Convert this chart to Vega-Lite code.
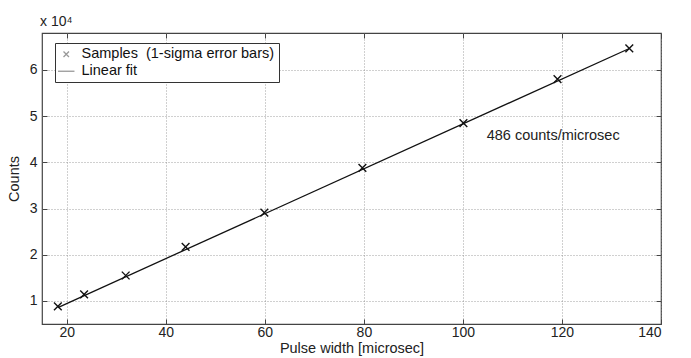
{
  "$schema": "https://vega.github.io/schema/vega-lite/v6.json",
  "width": 619,
  "height": 291,
  "autosize": {"type": "none"},
  "padding": {"left": 42, "top": 33, "right": 30, "bottom": 34},
  "background": "white",
  "title": {"text": "x 10⁴", "anchor": "start", "frame": "group", "fontSize": 14, "fontWeight": "normal", "font": "Liberation Sans", "color": "#222", "offset": 4, "dx": -2},
  "config": {
    "view": {"stroke": "#444", "strokeWidth": 1.2},
    "font": "Liberation Sans",
    "axis": {
      "labelFont": "Liberation Sans", "labelFontSize": 14, "labelColor": "#222",
      "titleFont": "Liberation Sans", "titleFontSize": 14.5, "titleFontWeight": "normal", "titleColor": "#222",
      "grid": true, "gridColor": "#888", "gridDash": [1, 2], "gridWidth": 0.8,
      "domain": false, "tickColor": "#444", "tickSize": -5, "labelPadding": 10
    }
  },
  "resolve": {"axis": {"x": "independent", "y": "independent"}},
  "datasets": {
    "samples": [
      {"width": 18.2, "counts": 8800, "series": "Samples\u00a0\u00a0(1-sigma error bars)"},
      {"width": 23.5, "counts": 11400, "series": "Samples\u00a0\u00a0(1-sigma error bars)"},
      {"width": 31.9, "counts": 15500, "series": "Samples\u00a0\u00a0(1-sigma error bars)"},
      {"width": 44.0, "counts": 21700, "series": "Samples\u00a0\u00a0(1-sigma error bars)"},
      {"width": 59.9, "counts": 29100, "series": "Samples\u00a0\u00a0(1-sigma error bars)"},
      {"width": 79.7, "counts": 38800, "series": "Samples\u00a0\u00a0(1-sigma error bars)"},
      {"width": 100.1, "counts": 48500, "series": "Samples\u00a0\u00a0(1-sigma error bars)"},
      {"width": 119.1, "counts": 58000, "series": "Samples\u00a0\u00a0(1-sigma error bars)"},
      {"width": 133.6, "counts": 64650, "series": "Samples\u00a0\u00a0(1-sigma error bars)"}
    ],
    "fit": [
      {"width": 18.2, "counts": 8565},
      {"width": 133.6, "counts": 64650}
    ]
  },
  "layer": [
    {
      "data": {"name": "fit"},
      "mark": {"type": "line", "color": "#111", "strokeWidth": 1.3},
      "encoding": {
        "x": {"field": "width", "type": "quantitative", "scale": {"domain": [15, 140], "nice": false, "zero": false},
          "axis": {"values": [20, 40, 60, 80, 100, 120, 140], "title": "Pulse width [microsec]", "titlePadding": 2, "labelPadding": 6}},
        "y": {"field": "counts", "type": "quantitative", "scale": {"domain": [5000, 68000], "nice": false, "zero": false},
          "axis": {"values": [10000, 20000, 30000, 40000, 50000, 60000], "labelExpr": "datum.value / 10000", "title": "Counts", "titlePadding": 8}}
      }
    },
    {
      "data": {"name": "fit"},
      "mark": {"type": "line", "opacity": 0},
      "encoding": {
        "x": {"field": "width", "type": "quantitative",
          "axis": {"orient": "top", "values": [20, 40, 60, 80, 100, 120, 140], "labels": false, "grid": false, "title": null}},
        "y": {"field": "counts", "type": "quantitative",
          "axis": {"orient": "right", "values": [10000, 20000, 30000, 40000, 50000, 60000], "labels": false, "grid": false, "title": null}}
      }
    },
    {
      "data": {"name": "samples"},
      "mark": {"type": "point", "filled": false, "color": "#111", "strokeWidth": 1.4, "size": 60, "opacity": 1},
      "encoding": {
        "x": {"field": "width", "type": "quantitative", "axis": null},
        "y": {"field": "counts", "type": "quantitative", "axis": null},
        "shape": {"field": "series", "type": "nominal",
          "scale": {"domain": ["Samples\u00a0\u00a0(1-sigma error bars)", "Linear fit"], "range": ["M-1,-1L1,1M-1,1L1,-1", "M-3,0L3,0"]},
          "legend": {"title": null, "orient": "none", "legendX": 13, "legendY": 10, "strokeColor": "#333", "fillColor": "white",
            "padding": 4, "labelFontSize": 14.5, "labelFont": "Liberation Sans", "labelColor": "#111", "symbolSize": 30, "labelLimit": 400,
            "symbolStrokeColor": "#999", "symbolStrokeWidth": 1.3, "symbolFillColor": "transparent", "rowPadding": 2, "labelOffset": 8, "cornerRadius": 0}
        }
      }
    },
    {
      "data": {"values": [{}]},
      "mark": {"type": "text", "align": "left", "baseline": "middle", "fontSize": 14.5, "font": "Liberation Sans", "color": "#222"},
      "encoding": {
        "x": {"datum": 104.8, "type": "quantitative", "axis": null},
        "y": {"datum": 45800, "type": "quantitative", "axis": null},
        "text": {"value": "486 counts/microsec"}
      }
    }
  ]
}
